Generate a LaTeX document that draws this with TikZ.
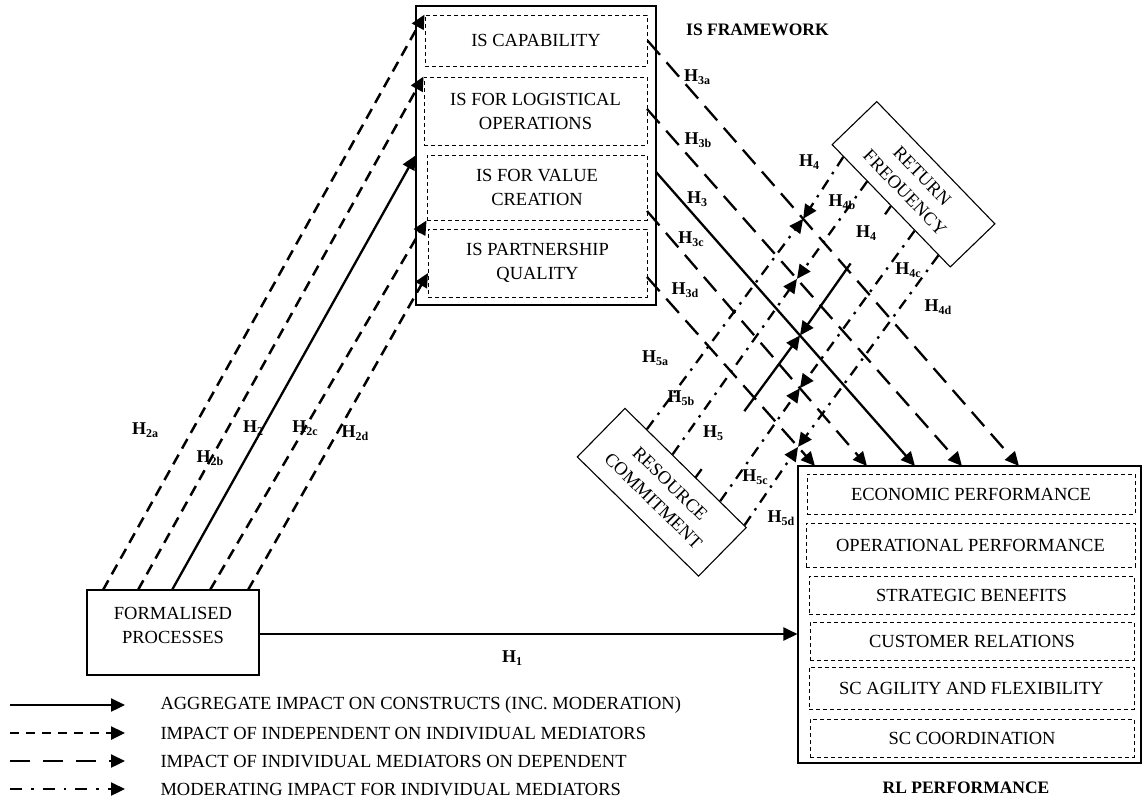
\documentclass[tikz,border=0pt]{standalone}
\usepackage{fontspec}
\setmainfont{Liberation Serif}
\usetikzlibrary{arrows.meta,calc}

% hypothesis label: bold H with a lowered index
\newcommand{\hyp}[1]{\textbf{H}\raisebox{-0.3ex}{\fontsize{12}{12}\selectfont\bfseries #1}}

\tikzset{
  txt/.style={font=\fontsize{18.5}{24}\selectfont, align=center},
  outerbox/.style={draw, line width=1.1pt, inner sep=0pt},
  innerbox/.style={draw, line width=0.9pt, dash pattern=on 4pt off 3pt, inner sep=0pt, txt},
  hlab/.style={font=\fontsize{18}{18}\selectfont, inner sep=0pt},
  heading/.style={font=\fontsize{17.5}{18}\selectfont\bfseries, inner sep=0pt},
  tip/.style={-{Triangle[length=14pt,width=13pt]}},
  aggr/.style={tip, line width=2.3pt},
  indep/.style={tip, line width=2.5pt, dash pattern=on 11pt off 7pt},
  medi/.style={tip, line width=2.3pt, dash pattern=on 19pt off 10pt},
  moder/.style={tip, line width=2.3pt, dash pattern=on 11pt off 7pt on 2.5pt off 7pt},
}

\begin{document}
\begin{tikzpicture}[x=1pt, y=-1pt]
\useasboundingbox (0,0) rectangle (1145,807);

% ---------- IS framework ----------
\node[outerbox, minimum width=240pt, minimum height=299pt] (isouter) at (536,155.5) {};
\node[innerbox, minimum width=222pt, minimum height=51pt] (iscap) at (536,40.5) {IS CAPABILITY};
\node[innerbox, minimum width=223pt, minimum height=68pt] (islog) at (535.5,111) {IS FOR LOGISTICAL\\OPERATIONS};
\node[innerbox, minimum width=220pt, minimum height=65pt] (isval) at (537,187.5) {IS FOR VALUE\\CREATION};
\node[innerbox, minimum width=219pt, minimum height=68pt] (ispart) at (537.5,263) {IS PARTNERSHIP\\QUALITY};
\node[heading, anchor=west] (istitle) at (686,30) {IS FRAMEWORK};

% ---------- formalised processes ----------
\node[outerbox, minimum width=172pt, minimum height=85pt] (fp) at (173,632.5) {};
\node[txt] (fptext) at (173,625) {FORMALISED\\PROCESSES};

% ---------- RL performance ----------
\node[outerbox, minimum width=343pt, minimum height=297pt] (rl) at (969.5,614.5) {};
\node[innerbox, minimum width=328pt, minimum height=40pt] (rl1) at (971,494) {ECONOMIC PERFORMANCE};
\node[innerbox, minimum width=329pt, minimum height=44pt] (rl2) at (970.5,545) {OPERATIONAL PERFORMANCE};
\node[innerbox, minimum width=325pt, minimum height=38pt] (rl3) at (971.5,595) {STRATEGIC BENEFITS};
\node[innerbox, minimum width=324pt, minimum height=38pt] (rl4) at (972,641) {CUSTOMER RELATIONS};
\node[innerbox, minimum width=325pt, minimum height=42pt] (rl5) at (971.5,688) {SC AGILITY AND FLEXIBILITY};
\node[innerbox, minimum width=324pt, minimum height=38pt] (rl6) at (972,738) {SC COORDINATION};
\node[heading] (rltitle) at (966,788) {RL PERFORMANCE};

% ---------- moderators ----------
\node[outerbox, txt, minimum width=170pt, minimum height=62pt, rotate=-46] (rf) at (913.5,184.25) {RETURN\\FREOUENCY};
\node[outerbox, txt, minimum width=170pt, minimum height=68pt, rotate=-44.5] (rc) at (661.75,492.25) {RESOURCE\\COMMITMENT};

% ---------- H1 ----------
\coordinate (h1s) at (fp.east |- 0,634);
\coordinate (h1e) at (rl.west |- 0,634);
\draw[aggr] (h1s) -- (h1e);
\node[hlab] (l1) at (512,658) {\hyp{1}};

% ---------- H2: formalised processes -> IS mediators ----------
\coordinate (f1) at (103,590);
\coordinate (f2) at (138,590);
\coordinate (f3) at (172,590);
\coordinate (f4) at (210,590);
\coordinate (f5) at (248,590);
\coordinate (t5) at (428,273);
\draw[indep] (f1) -- (iscap.north west);
\draw[indep] (f2) -- (islog.north west);
\draw[aggr]  (f3) -- (isouter.west);
\draw[indep] (f4) -- (isval.south west);
\draw[indep] (f5) -- (t5);
\node[hlab] (l2a) at (145,430) {\hyp{2a}};
\node[hlab] (l2b) at (210,458) {\hyp{2b}};
\node[hlab] (l2)  at (253,428) {\hyp{2}};
\node[hlab] (l2c) at (305,428) {\hyp{2c}};
\node[hlab] (l2d) at (355,433) {\hyp{2d}};

% ---------- H3: IS mediators -> RL performance ----------
\coordinate (s3a) at (iscap.east);
\coordinate (s3b) at (647,109);
\coordinate (s3)  at (656,172);
\coordinate (s3c) at (647,211);
\coordinate (s3d) at (647,277);
\coordinate (e3a) at (1019,466);
\coordinate (e3b) at (962,466);
\coordinate (e3)  at (915,466);
\coordinate (e3c) at (867,466);
\coordinate (e3d) at (815,466);
\draw[medi] (s3a) -- (e3a);
\draw[medi] (s3b) -- (e3b);
\draw[aggr] (s3)  -- (e3);
\draw[medi] (s3c) -- (e3c);
\draw[medi] (s3d) -- (e3d);
\node[hlab] (l3a) at (697,77)  {\hyp{3a}};
\node[hlab] (l3b) at (698,140) {\hyp{3b}};
\node[hlab] (l3)  at (697,199) {\hyp{3}};
\node[hlab] (l3c) at (691,239) {\hyp{3c}};
\node[hlab] (l3d) at (685,290) {\hyp{3d}};

% meeting points of the moderating arrows on the H3 paths
\coordinate (ma) at ($(s3a)!0.419!(e3a)$);
\coordinate (mb) at ($(s3b)!0.476!(e3b)$);
\coordinate (mm) at ($(s3)!0.556!(e3)$);
\coordinate (mc) at ($(s3c)!0.695!(e3c)$);
\coordinate (md) at ($(s3d)!0.899!(e3d)$);

% ---------- H4: return frequency ----------
\coordinate (r1) at ($(rf.south west)!0.1!(rf.south east)$);
\coordinate (r2) at ($(rf.south west)!0.3!(rf.south east)$);
\coordinate (r3) at ($(rf.south west)!0.5!(rf.south east)$);
\coordinate (r4) at ($(rf.south west)!0.7!(rf.south east)$);
\coordinate (r5) at ($(rf.south west)!0.9!(rf.south east)$);
\draw[moder] (r1) -- (ma);
\draw[moder] (r2) -- (mb);
\draw[aggr, dash pattern=on 10pt off 60pt on 400pt] (r3) -- (mm);
\draw[moder] (r4) -- (mc);
\draw[moder] (r5) -- (md);
\node[hlab] (l4a) at (809,162) {\hyp{4}};
\node[hlab] (l4b) at (842,202) {\hyp{4b}};
\node[hlab] (l4)  at (866,233) {\hyp{4}};
\node[hlab] (l4c) at (908,270) {\hyp{4c}};
\node[hlab] (l4d) at (938,307) {\hyp{4d}};

% ---------- H5: resource commitment ----------
\coordinate (c1) at ($(rc.north west)!0.18!(rc.north east)$);
\coordinate (c2) at ($(rc.north west)!0.39!(rc.north east)$);
\coordinate (c3) at ($(rc.north west)!0.58!(rc.north east)$);
\coordinate (c4) at ($(rc.north west)!0.78!(rc.north east)$);
\coordinate (c5) at ($(rc.north west)!0.98!(rc.north east)$);
\draw[moder] (c1) -- (ma);
\draw[moder] (c2) -- (mb);
\draw[aggr, dash pattern=on 10pt off 72pt on 400pt] (c3) -- (mm);
\draw[moder] (c4) -- (mc);
\draw[moder] (c5) -- (md);
\node[hlab] (l5a) at (655,358) {\hyp{5a}};
\node[hlab] (l5b) at (681,398) {\hyp{5b}};
\node[hlab] (l5)  at (713,433) {\hyp{5}};
\node[hlab] (l5c) at (755,477) {\hyp{5c}};
\node[hlab] (l5d) at (781,518) {\hyp{5d}};

% ---------- legend ----------
\coordinate (k1a) at (10,705);  \coordinate (k1b) at (125,705);
\coordinate (k2a) at (10,733);  \coordinate (k2b) at (125,733);
\coordinate (k3a) at (10,761);  \coordinate (k3b) at (125,761);
\coordinate (k4a) at (10,789);  \coordinate (k4b) at (125,789);
\draw[aggr]  (k1a) -- (k1b);
\draw[indep, dash pattern=on 9pt off 7pt] (k2a) -- (k2b);
\draw[medi, dash pattern=on 20pt off 13pt] (k3a) -- (k3b);
\draw[moder, dash pattern=on 12pt off 9pt on 2.5pt off 9pt] (k4a) -- (k4b);
\node[txt, anchor=west] (k1t) at (157,705) {AGGREGATE IMPACT ON CONSTRUCTS (INC. MODERATION)};
\node[txt, anchor=west] (k2t) at (157,733) {IMPACT OF INDEPENDENT ON INDIVIDUAL MEDIATORS};
\node[txt, anchor=west] (k3t) at (157,761) {IMPACT OF INDIVIDUAL MEDIATORS ON DEPENDENT};
\node[txt, anchor=west] (k4t) at (157,789) {MODERATING IMPACT FOR INDIVIDUAL MEDIATORS};
\end{tikzpicture}
\end{document}
